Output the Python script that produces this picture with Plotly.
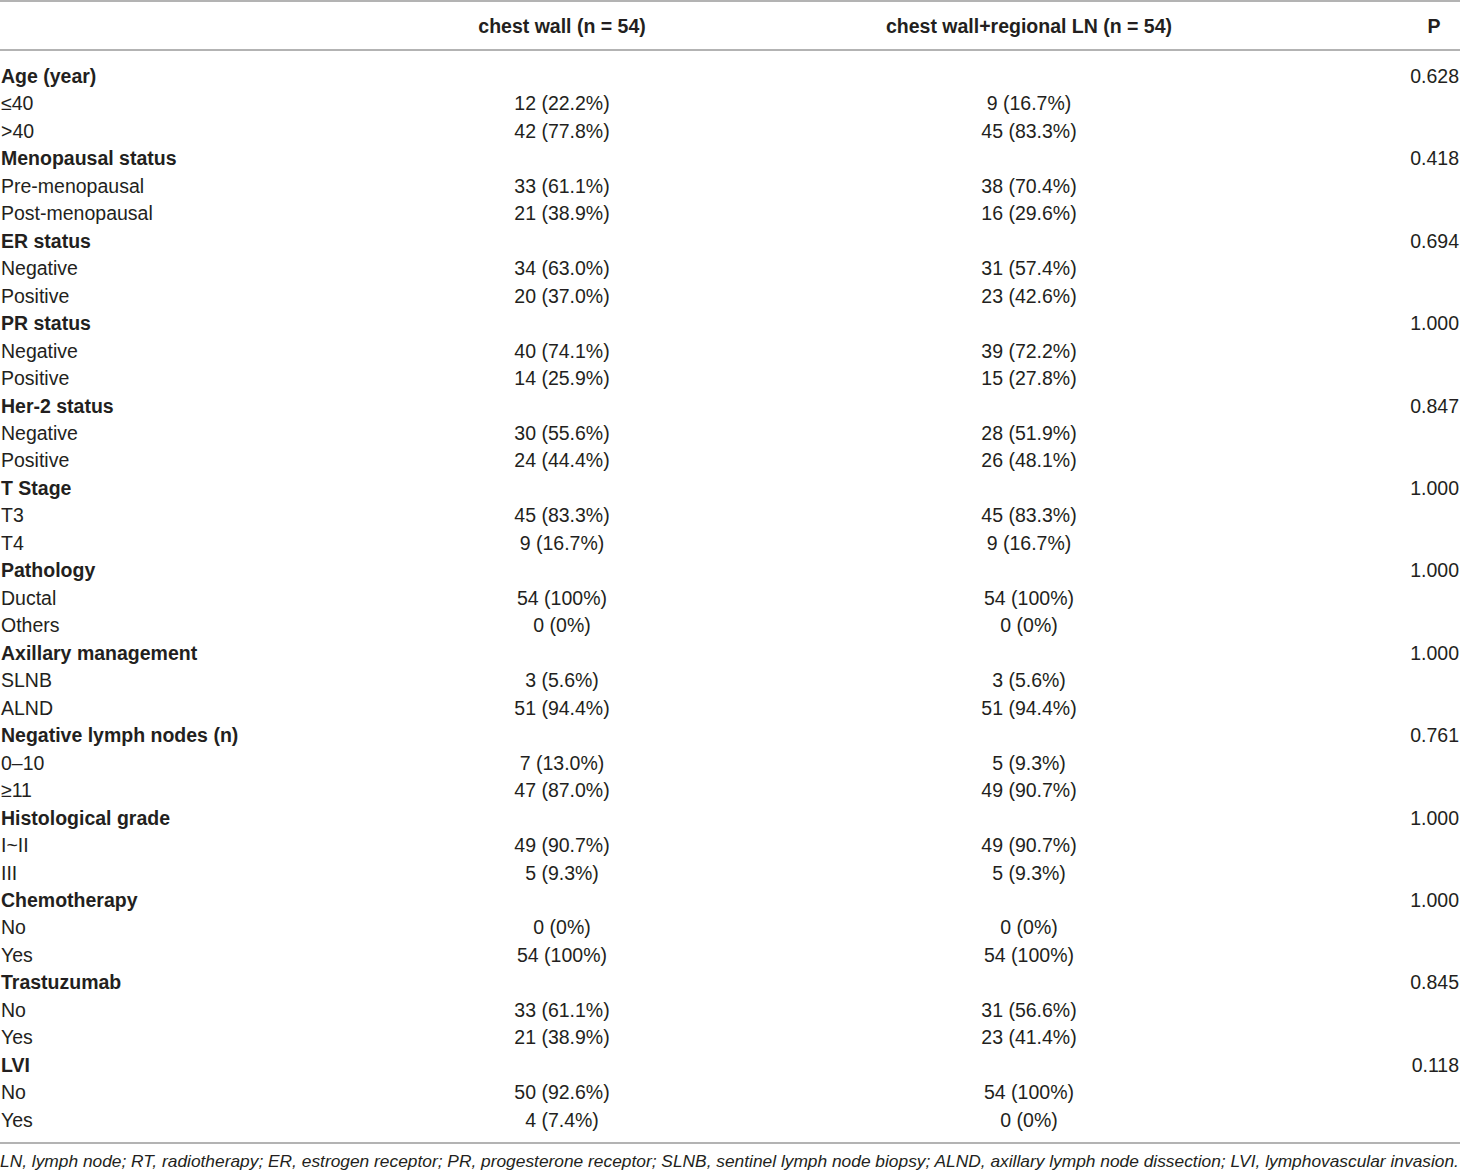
import plotly.graph_objects as go

# ---- data ----
groups = [
    "Age (year)", "Menopausal status", "ER status", "PR status", "Her-2 status",
    "T Stage", "Pathology", "Axillary management", "Negative lymph nodes (n)",
    "Histological grade", "Chemotherapy", "Trastuzumab", "LVI",
]
p_values = ["0.628", "0.418", "0.694", "1.000", "0.847", "1.000", "1.000",
            "1.000", "0.761", "1.000", "1.000", "0.845", "0.118"]
sub_labels = [
    ["≤40", ">40"],
    ["Pre-menopausal", "Post-menopausal"],
    ["Negative", "Positive"],
    ["Negative", "Positive"],
    ["Negative", "Positive"],
    ["T3", "T4"],
    ["Ductal", "Others"],
    ["SLNB", "ALND"],
    ["0–10", "≥11"],
    ["I~II", "III"],
    ["No", "Yes"],
    ["No", "Yes"],
    ["No", "Yes"],
]
chest_wall = [
    ["12 (22.2%)", "42 (77.8%)"],
    ["33 (61.1%)", "21 (38.9%)"],
    ["34 (63.0%)", "20 (37.0%)"],
    ["40 (74.1%)", "14 (25.9%)"],
    ["30 (55.6%)", "24 (44.4%)"],
    ["45 (83.3%)", "9 (16.7%)"],
    ["54 (100%)", "0 (0%)"],
    ["3 (5.6%)", "51 (94.4%)"],
    ["7 (13.0%)", "47 (87.0%)"],
    ["49 (90.7%)", "5 (9.3%)"],
    ["0 (0%)", "54 (100%)"],
    ["33 (61.1%)", "21 (38.9%)"],
    ["50 (92.6%)", "4 (7.4%)"],
]
chest_wall_ln = [
    ["9 (16.7%)", "45 (83.3%)"],
    ["38 (70.4%)", "16 (29.6%)"],
    ["31 (57.4%)", "23 (42.6%)"],
    ["39 (72.2%)", "15 (27.8%)"],
    ["28 (51.9%)", "26 (48.1%)"],
    ["45 (83.3%)", "9 (16.7%)"],
    ["54 (100%)", "0 (0%)"],
    ["3 (5.6%)", "51 (94.4%)"],
    ["5 (9.3%)", "49 (90.7%)"],
    ["49 (90.7%)", "5 (9.3%)"],
    ["0 (0%)", "54 (100%)"],
    ["31 (56.6%)", "23 (41.4%)"],
    ["54 (100%)", "0 (0%)"],
]
headers = ["", "chest wall (n = 54)", "chest wall+regional LN (n = 54)", "P"]
footnote = ("LN, lymph node; RT, radiotherapy; ER, estrogen receptor; PR, progesterone receptor; "
            "SLNB, sentinel lymph node biopsy; ALND, axillary lymph node dissection; "
            "LVI, lymphovascular invasion.")

# ---- build rows ----
labels, c1, c2, pv = [], [], [], []
for g, p, subs, a, b in zip(groups, p_values, sub_labels, chest_wall, chest_wall_ln):
    labels.append(f"<b>{g}</b>"); c1.append(""); c2.append(""); pv.append(p)
    for s, x1, x2 in zip(subs, a, b):
        labels.append(s); c1.append(x1); c2.append(x2); pv.append("")

W, H = 1460, 1174
ROW0, STEP = 78, 27.47
ys = [ROW0 + i * STEP for i in range(len(labels))]

FONT = "Liberation Sans, Arial, sans-serif"
COLOR = "#231f20"
FS = 19.5

X_LABEL, X_C1, X_C2, X_P, X_PH = 1, 562, 1029, 1459, 1434
HEADER_Y = 28

fig = go.Figure()

def text_trace(x, y, text, pos, size=FS):
    fig.add_trace(go.Scatter(
        x=x, y=y, text=text, mode="text", textposition=pos,
        textfont=dict(family=FONT, size=size, color=COLOR),
        hoverinfo="skip", showlegend=False, cliponaxis=False,
    ))

text_trace([X_LABEL] * len(ys), ys, labels, "middle right")
text_trace([X_C1] * len(ys), ys, c1, "middle center")
text_trace([X_C2] * len(ys), ys, c2, "middle center")
text_trace([X_P] * len(ys), ys, pv, "middle left")

# header
text_trace([X_C1, X_C2, X_PH], [HEADER_Y] * 3,
           [f"<b>{h}</b>" for h in headers[1:]], "middle center")

# footnote
text_trace([0], [1163], [f"<i>{footnote}</i>"], "middle right", size=17.35)

# rules
for yline in [1, 50, 1143]:
    fig.add_shape(type="line", x0=0, x1=W, y0=yline, y1=yline,
                  xref="x", yref="y", line=dict(color="#9a9a9a", width=1.5))

fig.update_xaxes(range=[0, W], visible=False, fixedrange=True)
fig.update_yaxes(range=[H, 0], visible=False, fixedrange=True)
fig.update_layout(
    width=W, height=H, margin=dict(l=0, r=0, t=0, b=0),
    plot_bgcolor="white", paper_bgcolor="white",
)

fig.write_html(
    "out.html",
    config={"displayModeBar": False},
    post_script="document.body.style.margin='0';document.body.style.overflow='hidden';",
)
